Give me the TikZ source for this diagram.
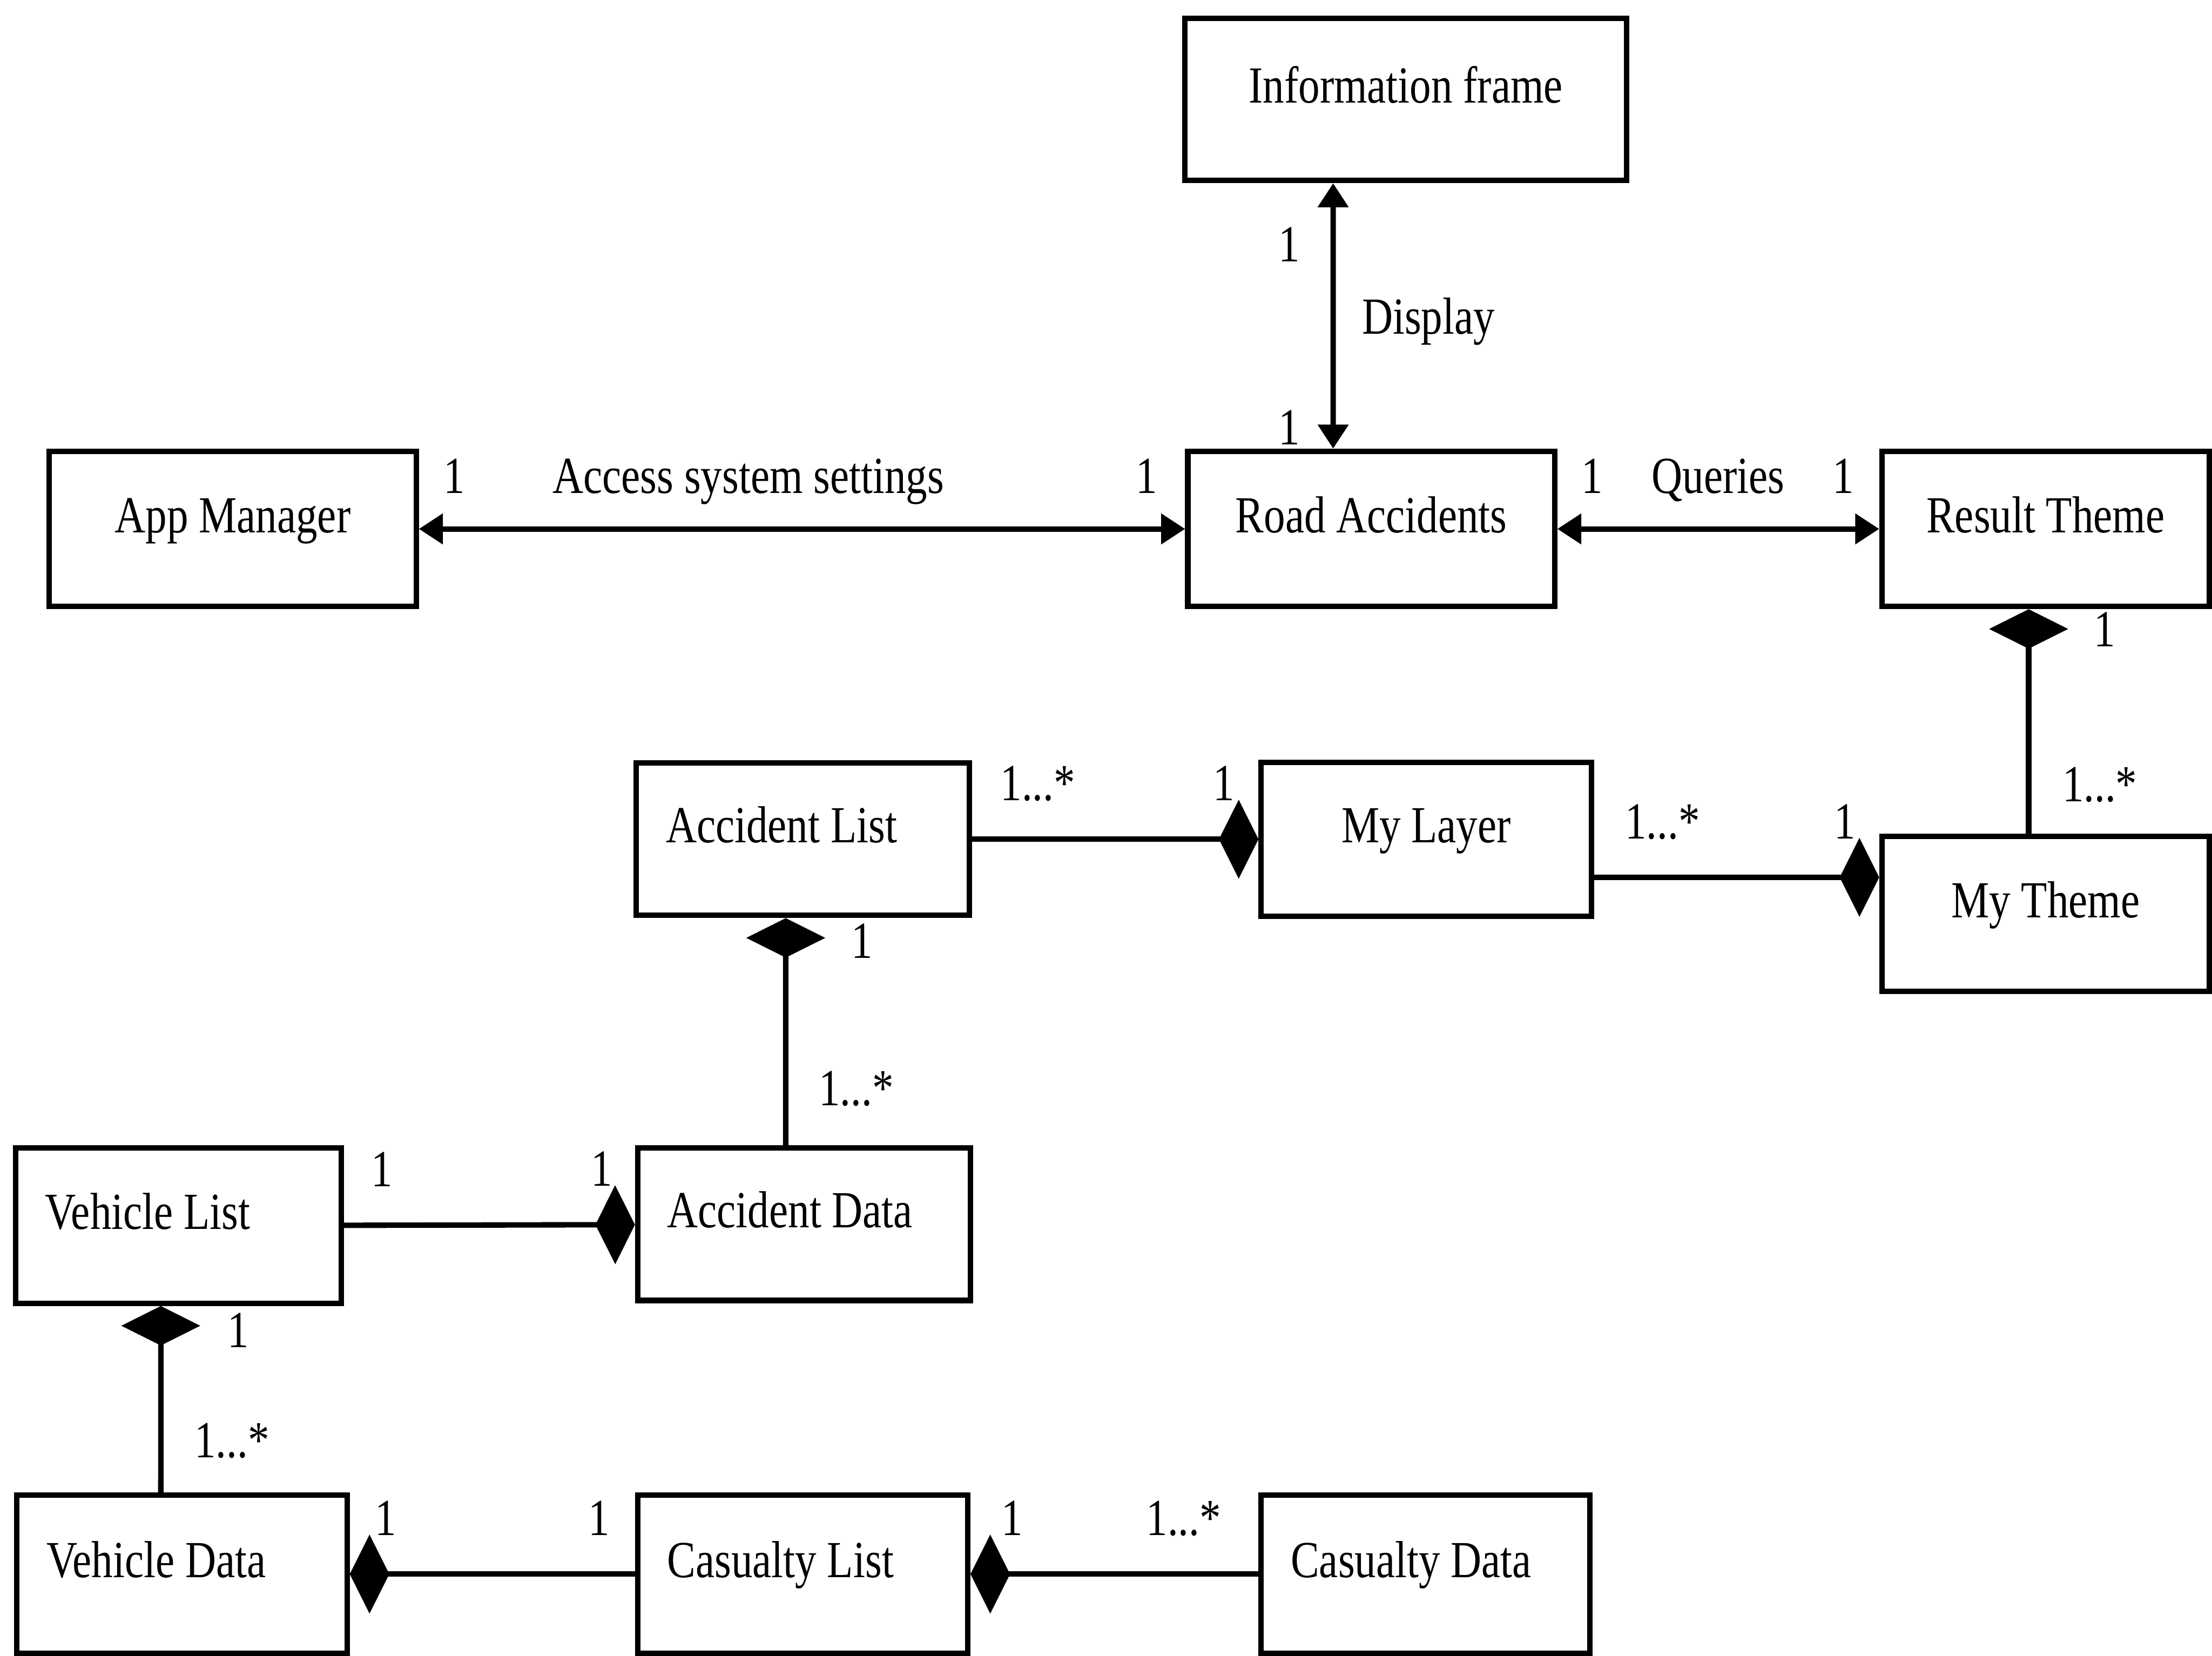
\documentclass[tikz,border=0pt]{standalone}
\usepackage{amsmath, amssymb}
\usepackage{fontspec}
\setmainfont{Liberation Serif}[FakeStretch=0.82]
\usepackage{tikz}
\usepackage{xcolor}
\usetikzlibrary{arrows.meta}

\begin{document}
\begin{tikzpicture}[
        cls/.style={draw, line width=1.1pt, minimum height=1.10cm, inner sep=0pt, text height=0.26cm, text depth=0.21cm, font=\fontsize{10.5}{12}\selectfont},
        clsl/.style={cls, align=flush left, inner xsep=0.21cm},
        mult/.style={font=\fontsize{10.5}{12}\selectfont, inner sep=1pt, text depth=0pt},
        link/.style={line width=1.1pt},
        both/.style={link, {Triangle[length=1.7mm,width=2.1mm]}-{Triangle[length=1.7mm,width=2.1mm]}},
        part/.style={link, -{Diamond[length=2.8mm,width=5.6mm]}}
    ]
                \useasboundingbox (0,0) rectangle (15.68,11.74);

                % the classes
                \node[cls, minimum width=3.13cm, minimum height=1.15cm] (info) at (9.965,11.035) {Information frame};
                \node[cls, minimum width=2.60cm] (app) at (1.65,7.99) {App Manager};
                \node[cls, minimum width=2.60cm] (road) at (9.72,7.99) {Road Accidents};
                \node[cls, minimum width=2.32cm] (result) at (14.50,7.99) {Result Theme};
                \node[clsl, text width=1.94cm, minimum height=1.08cm] (acclist) at (5.69,5.79) {Accident List};
                \node[cls, minimum width=2.34cm, minimum height=1.09cm] (layer) at (10.11,5.79) {My Layer};
                \node[cls, minimum width=2.32cm] (theme) at (14.50,5.26) {My Theme};
                \node[clsl, text width=1.89cm] (vlist) at (1.265,3.05) {Vehicle List};
                \node[clsl, text width=1.94cm, minimum height=1.08cm] (accdata) at (5.70,3.06) {Accident Data};
                \node[clsl, text width=1.92cm, minimum height=1.12cm] (vdata) at (1.29,0.58) {Vehicle Data};
                \node[clsl, text width=1.92cm, minimum height=1.12cm] (clist) at (5.69,0.58) {Casualty List};
                \node[clsl, text width=1.91cm, minimum height=1.12cm] (cdata) at (10.105,0.58) {Casualty Data};

                % associations
                \draw[both] ([xshift=-5.15mm]info.south) -- ([xshift=-2.7mm]road.north)
                    node[mult, pos=0.23, left=1.8mm] {1}
                    node[mult, pos=0.92, left=1.8mm] {1}
                    node[mult, pos=0.50, right=1.5mm] {Display};
                \draw[both] (app) -- (road)
                    node[mult, pos=0.046, above=2mm] {1}
                    node[mult, pos=0.43, above=2mm] {Access system settings}
                    node[mult, pos=0.95, above=2mm] {1};
                \draw[both] (road) -- (result)
                    node[mult, pos=0.108, above=2mm] {1}
                    node[mult, pos=0.5, above=2mm] {Queries}
                    node[mult, pos=0.888, above=2mm] {1};

                % compositions
                \draw[part] ([xshift=-1.2mm]theme.north) -- ([xshift=-1.2mm]result.south)
                    node[mult, pos=0.22, right=1.85mm] {1...*}
                    node[mult, pos=0.91, right=4.1mm] {1};
                \draw[part] (acclist) -- (layer)
                    node[mult, pos=0.23, above=2.2mm] {1...*}
                    node[mult, pos=0.88, above=2.2mm] {1};
                \draw[part] ([yshift=-2.7mm]layer.east) -- ([yshift=2.6mm]theme.west)
                    node[mult, pos=0.24, above=2.2mm] {1...*}
                    node[mult, pos=0.88, above=2.2mm] {1};
                \draw[part] ([xshift=-1.3mm]accdata.north) -- ([xshift=-1.2mm]acclist.south)
                    node[mult, pos=0.25, right=1.8mm] {1...*}
                    node[mult, pos=0.90, right=4.1mm] {1};
                \draw[part] (vlist) -- (accdata)
                    node[mult, pos=0.13, above=2.2mm] {1}
                    node[mult, pos=0.886, above=2.2mm] {1};
                \draw[part] ([xshift=-1.5mm]vdata.north) -- ([xshift=-1.25mm]vlist.south)
                    node[mult, pos=0.28, right=1.85mm] {1...*}
                    node[mult, pos=0.87, right=4.2mm] {1};
                \draw[part] (clist) -- (vdata)
                    node[mult, pos=0.126, above=2.2mm] {1}
                    node[mult, pos=0.874, above=2.2mm] {1};
                \draw[part] (cdata) -- (clist)
                    node[mult, pos=0.26, above=2.2mm] {1...*}
                    node[mult, pos=0.856, above=2.2mm] {1};
\end{tikzpicture}
\end{document}
